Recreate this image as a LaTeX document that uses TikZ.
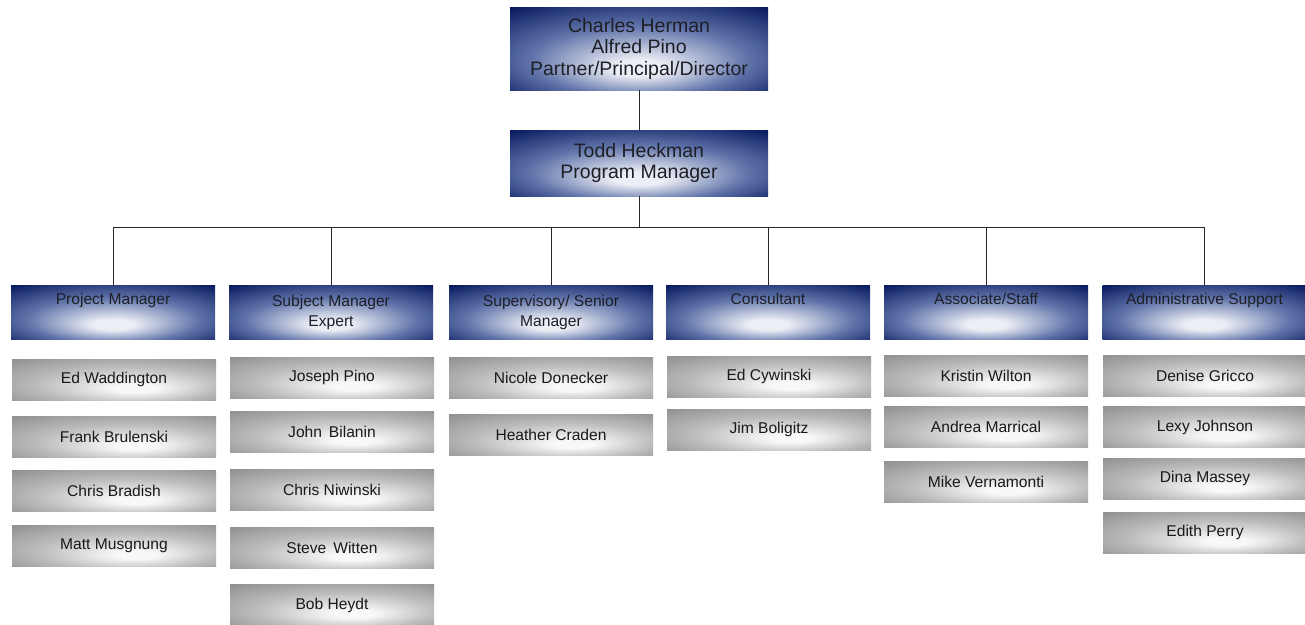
\documentclass[tikz,border=0pt]{standalone}
\usepackage{fontspec}
\setmainfont{Liberation Sans}

\definecolor{navydark}{RGB}{10,28,96}
\definecolor{navymid}{RGB}{96,116,170}
\definecolor{navyhl}{RGB}{236,238,245}
\definecolor{greydark}{RGB}{140,140,140}
\definecolor{greymid}{RGB}{188,188,188}
\definecolor{greyhl}{RGB}{248,248,248}
\definecolor{inkgrey}{RGB}{30,30,38}

\pgfdeclareradialshading{navyglow}{\pgfpoint{0bp}{-13bp}}{color(0bp)=(navyhl); color(5bp)=(navyhl); color(21bp)=(navymid); color(37bp)=(navydark); color(50bp)=(navydark)}
\pgfdeclareradialshading{greyglow}{\pgfpoint{6bp}{-12bp}}{color(0bp)=(greyhl); color(5bp)=(greyhl); color(22bp)=(greymid); color(40bp)=(greydark); color(50bp)=(greydark)}

\begin{document}
\begin{tikzpicture}[x=1pt,y=1pt,yscale=-1,xscale=1,
  topbox/.style={shading=navyglow, minimum width=258pt, inner sep=0pt, align=center, text=inkgrey, font=\fontsize{19.5}{21.5}\selectfont},
  hdrbox/.style={shading=navyglow, minimum width=204pt, minimum height=54pt, inner sep=0pt, align=center, text=inkgrey, font=\fontsize{15.6}{20}\selectfont},
  namebox/.style={shading=greyglow, minimum width=204pt, minimum height=41pt, inner sep=0pt, align=center, text=black!90, font=\fontsize{15.6}{20}\selectfont},
  link/.style={draw=black!85, line width=1pt}]
\useasboundingbox (0,0) rectangle (1305,624);

% Top of chart
\node [topbox, minimum height=83pt] (dir) at (639,48.5) {Charles Herman\\Alfred Pino\\Partner/Principal/Director};
\node [topbox, minimum height=66pt] (todd) at (639,163) {Todd Heckman\\Program Manager};

% Headers
\node [hdrbox] (pm) at (113,312) {Project Manager\\\strut};
\node [hdrbox] (sme) at (331,312) {Subject Manager\\Expert};
\node [hdrbox] (sup) at (551,312) {Supervisory/ Senior\\Manager};
\node [hdrbox] (con) at (768,312) {Consultant\\\strut};
\node [hdrbox] (ass) at (986,312) {Associate/Staff\\\strut};
\node [hdrbox] (adm) at (1204.5,312) {Administrative Support\\\strut};

% Project Manager
\node [namebox] (pm1) at (114,379.5) {Ed Waddington};
\node [namebox] (pm2) at (114,437) {Frank Brulenski};
\node [namebox] (pm3) at (114,491) {Chris Bradish};
\node [namebox] (pm4) at (114,546) {Matt Musgnung};

% Subject Manager Expert
\node [namebox] (sme1) at (332,377.5) {Joseph Pino};
\node [namebox] (sme2) at (332,431.5) {John \,Bilanin};
\node [namebox] (sme3) at (332,490) {Chris Niwinski};
\node [namebox] (sme4) at (332,547.5) {Steve \,Witten};
\node [namebox] (sme5) at (332,605) {Bob Heydt};

% Supervisory/ Senior Manager
\node [namebox] (sup1) at (551,378) {Nicole Donecker};
\node [namebox] (sup2) at (551,435) {Heather Craden};

% Consultant
\node [namebox] (con1) at (769,376.5) {Ed Cywinski};
\node [namebox] (con2) at (769,429.5) {Jim Boligitz};

% Associate/Staff
\node [namebox] (ass1) at (986,375.5) {Kristin Wilton};
\node [namebox] (ass2) at (986,427) {Andrea Marrical};
\node [namebox] (ass3) at (986,481.5) {Mike Vernamonti};

% Administrative Support
\node [namebox] (adm1) at (1205,375.5) {Denise Gricco};
\node [namebox] (adm2) at (1205,427) {Lexy Johnson};
\node [namebox] (adm3) at (1205,478.5) {Dina Massey};
\node [namebox] (adm4) at (1205,532.5) {Edith Perry};

% Lines
\draw [link] (dir.south) -- (todd.north);
\foreach \hdr in {pm,sme,sup,con,ass,adm}
  \draw [link] (todd.south) -- ++(0,31) -| (\hdr.north);

\end{tikzpicture}
\end{document}
